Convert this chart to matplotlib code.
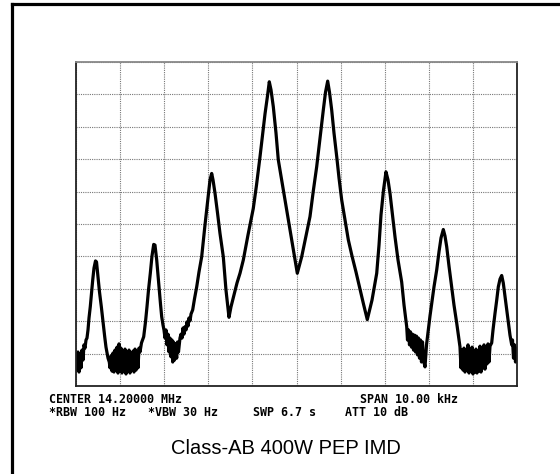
import matplotlib
matplotlib.use("Agg")
import matplotlib.pyplot as plt
from matplotlib.ticker import MultipleLocator
from matplotlib.lines import Line2D

# ---- data: spectrum trace, offset from 14.2 MHz (kHz) and level (dB) ----
freq_khz = [
    -5.000, -4.977, -4.955, -4.932, -4.909, -4.887, -4.864, -4.841, -4.819, -4.796,
    -4.773, -4.751, -4.728, -4.705, -4.676, -4.649, -4.621, -4.592, -4.558, -4.535,
    -4.501, -4.467, -4.426, -4.388, -4.349, -4.320, -4.297, -4.274, -4.245,
    -4.229, -4.206, -4.184, -4.161, -4.138, -4.116, -4.093, -4.070, -4.048, -4.025,
    -4.002, -3.980, -3.957, -3.934, -3.912, -3.889, -3.866, -3.844, -3.821, -3.798,
    -3.776, -3.753, -3.730, -3.707, -3.685, -3.662, -3.639, -3.617, -3.594, -3.571,
    -3.549, -3.515, -3.465, -3.424, -3.390, -3.356, -3.315, -3.277, -3.238, -3.209,
    -3.170, -3.141, -3.111, -3.084, -3.057, -3.027, -3.005,
    -2.982, -2.959, -2.937, -2.914, -2.891, -2.868, -2.846, -2.823, -2.807, -2.789,
    -2.766, -2.744, -2.717, -2.698, -2.676, -2.642, -2.619, -2.596, -2.574, -2.551,
    -2.528, -2.506, -2.483, -2.460, -2.438, -2.415, -2.392, -2.354, -2.313, -2.263,
    -2.211, -2.150, -2.075, -2.007, -1.961, -1.923, -1.893, -1.848, -1.791, -1.735,
    -1.660, -1.599, -1.531, -1.486, -1.417, -1.349, -1.281, -1.206, -1.100, -0.980,
    -0.907, -0.828, -0.771, -0.714, -0.658, -0.617, -0.578, -0.526, -0.465, -0.413,
    -0.317, -0.222, -0.147, -0.073, 0.018, 0.068, 0.118, 0.215, 0.306, 0.381,
    0.458, 0.533, 0.608, 0.658, 0.707, 0.748, 0.798, 0.850, 0.912, 0.964,
    1.025, 1.100, 1.175, 1.259, 1.349, 1.440, 1.519, 1.605, 1.712, 1.819,
    1.871, 1.916, 1.973, 2.029, 2.075, 2.120, 2.177, 2.234, 2.302, 2.385,
    2.438, 2.499,
    2.517, 2.540, 2.562, 2.585, 2.608, 2.630, 2.653, 2.676, 2.698, 2.721,
    2.744, 2.766, 2.789, 2.812, 2.834, 2.857, 2.880, 2.914, 2.948, 2.989,
    3.027, 3.066, 3.118, 3.179, 3.231, 3.277, 3.329, 3.367, 3.406, 3.458,
    3.519, 3.571, 3.633, 3.673, 3.707,
    3.730, 3.753, 3.776, 3.798, 3.821, 3.844, 3.866, 3.889, 3.912, 3.934,
    3.957, 3.980, 4.002, 4.025, 4.048, 4.070, 4.093, 4.116, 4.138, 4.161,
    4.184, 4.206, 4.229, 4.252, 4.274, 4.297, 4.320, 4.342, 4.365, 4.388,
    4.426, 4.456, 4.501, 4.540, 4.576, 4.615, 4.653, 4.689, 4.728, 4.766,
    4.803, 4.841, 4.880, 4.898, 4.921, 4.943, 4.966, 4.989, 5.000,
]
level_db = [
    -90.7, -95.1, -89.5, -95.7, -90.4, -94.4, -88.9, -92.0, -87.3, -88.3,
    -85.8, -85.2, -82.7, -79.0, -75.5, -71.3, -67.3, -63.6, -61.4, -61.7,
    -66.3, -71.0, -75.5, -80.2, -84.8, -88.0, -89.8, -91.4, -92.6,
    -94.4, -90.7, -95.4, -89.8, -95.7, -88.9, -95.1, -88.0, -96.0, -87.0,
    -95.4, -88.3, -96.0, -89.5, -95.1, -88.6, -96.3, -90.4, -95.4, -88.9,
    -96.0, -89.8, -94.8, -89.2, -95.7, -88.6, -95.1, -89.5, -94.4, -88.3,
    -89.5, -86.7, -84.8, -80.2, -75.5, -70.4, -65.2, -59.9, -56.3, -56.5,
    -61.1, -65.7, -70.4, -74.7, -78.6, -81.2, -82.7,
    -85.2, -82.7, -87.3, -84.0, -89.5, -85.2, -91.0, -85.8, -92.6, -86.4,
    -92.0, -87.0, -91.4, -86.4, -89.5, -85.2, -84.0, -85.2, -82.1, -84.0,
    -81.7, -82.7, -80.2, -81.5, -79.0, -79.9, -77.8, -76.5, -73.1, -69.4,
    -64.8, -60.1, -50.3, -42.0, -36.4, -34.4, -36.4, -40.5, -46.6, -52.9,
    -60.1, -70.4, -78.8, -75.6, -71.9, -68.2, -65.2, -61.1, -53.4, -45.2,
    -38.0, -29.3, -22.5, -16.0, -10.5, -6.1, -8.6, -13.8, -21.9, -30.2,
    -38.0, -45.7, -51.9, -58.0, -65.2, -62.7, -60.1, -53.7, -47.7, -39.8,
    -32.3, -23.5, -14.8, -9.3, -5.9, -9.3, -14.8, -21.9, -29.2, -35.8,
    -42.6, -48.8, -54.9, -59.9, -64.8, -70.1, -74.7, -79.5, -73.5, -65.2,
    -56.5, -47.2, -39.5, -33.9, -36.4, -40.5, -47.2, -54.0, -61.1, -67.9,
    -75.0, -81.7,
    -85.8, -82.7, -87.3, -83.3, -88.0, -84.0, -88.9, -84.3, -89.5, -84.6,
    -90.4, -85.2, -91.4, -85.8, -92.6, -86.4, -92.0, -94.1, -87.3, -82.7,
    -78.4, -74.5, -69.4, -64.2, -58.6, -54.3, -51.7, -53.7, -57.0, -63.0,
    -69.4, -75.0, -80.6, -84.6, -87.9,
    -94.4, -88.9, -95.1, -88.3, -95.7, -89.5, -94.8, -87.3, -96.0, -88.9,
    -95.4, -88.0, -96.3, -89.5, -95.7, -88.6, -96.0, -89.8, -95.4, -87.7,
    -95.7, -88.9, -94.4, -87.3, -94.8, -88.3, -93.2, -87.0, -92.6, -87.7,
    -86.7, -82.7, -77.6, -73.5, -69.4, -67.0, -65.9, -68.2, -72.4, -76.5,
    -80.6, -84.3, -87.3, -85.8, -91.4, -87.3, -92.6, -88.3, -89.5,
]

x_range = [-5, 5]        # SPAN 10 kHz
y_range = [-100, 0]      # 10 dB/div

line1 = ["CENTER 14.20000 MHz", "SPAN 10.00 kHz"]
line1_x = [49, 360]
line2 = ["*RBW 100 Hz", "*VBW 30 Hz", "SWP 6.7 s", "ATT 10 dB"]
line2_x = [49, 148, 253, 345]
title = "Class-AB 400W PEP IMD"

W, H = 560, 474
fig = plt.figure(figsize=(W / 100, H / 100), dpi=100)
fig.patch.set_facecolor("white")

ax = fig.add_axes([76 / W, 1 - 386 / H, 441 / W, 324 / H])
ax.plot(freq_khz, level_db, color="black", lw=2.3, solid_joinstyle="round")
ax.set_xlim(*x_range)
ax.set_ylim(*y_range)
ax.xaxis.set_major_locator(MultipleLocator(1))
ax.yaxis.set_major_locator(MultipleLocator(10))
ax.grid(True, color="#777777", linestyle=(0, (1, 1)), linewidth=0.8)
ax.tick_params(length=0, labelbottom=False, labelleft=False)
for name, sp in ax.spines.items():
    sp.set_linewidth(1.3)
    sp.set_color("#222222" if name != "top" else "#888888")

# outer frame (top and left edges)
fig.add_artist(Line2D([12 / W, 1.0], [1 - 4 / H, 1 - 4 / H], color="black", lw=2.3,
                      transform=fig.transFigure))
fig.add_artist(Line2D([12 / W, 12 / W], [1 - 4 / H, 1 - 472 / H], color="black", lw=2.3,
                      transform=fig.transFigure))

mono = dict(family="DejaVu Sans Mono", fontsize=8.4, fontweight="bold", color="black",
            va="baseline", ha="left")
for s, x in zip(line1, line1_x):
    fig.text(x / W, 1 - 402.7 / H, s, **mono)
for s, x in zip(line2, line2_x):
    fig.text(x / W, 1 - 416 / H, s, **mono)

fig.text(286 / W, 1 - 454 / H, title, family="Liberation Sans", fontsize=14.5,
         ha="center", va="baseline", color="black")

fig.savefig("out.png", dpi=100, facecolor="white")
